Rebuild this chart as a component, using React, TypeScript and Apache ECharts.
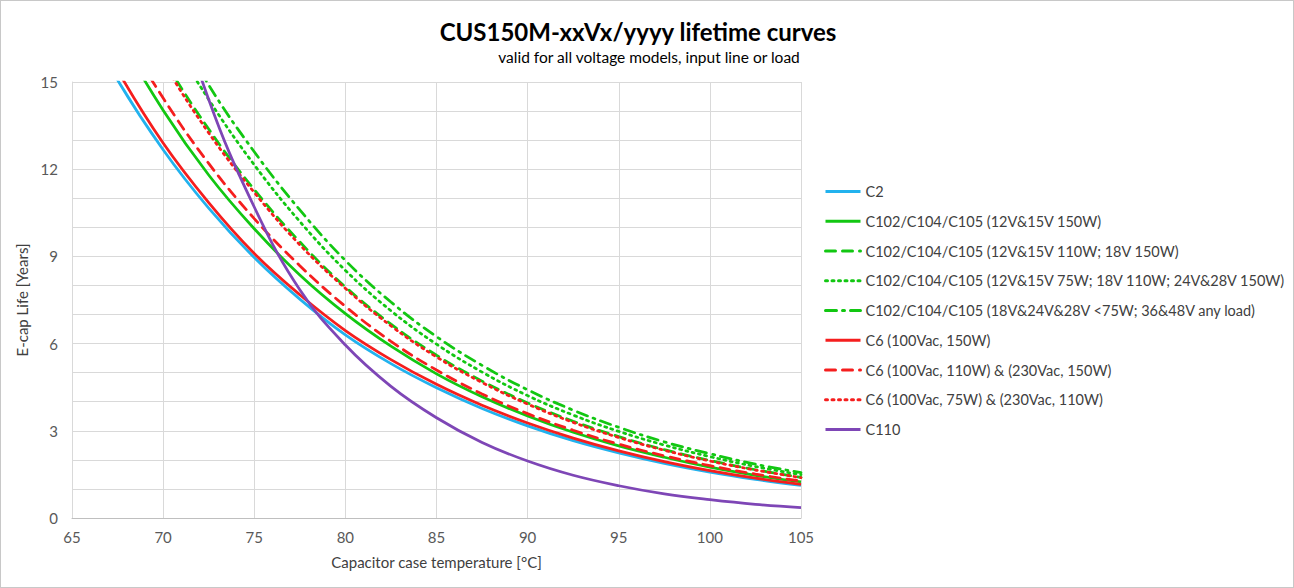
import React, { useEffect, useRef } from "react";
import * as echarts from "echarts";

const temps = [65, 67.5, 70, 72.5, 75, 77.5, 80, 82.5, 85, 87.5, 90, 92.5, 95, 97.5, 100, 102.5, 105];

const c2 = [17.92, 15.07, 12.67, 10.66, 8.96, 7.53, 6.3, 5.31, 4.48, 3.77, 3.17, 2.66, 2.24, 1.88, 1.58, 1.33, 1.12];
const c102_150 = [19.84, 16.68, 14.03, 11.8, 9.95, 8.36, 7.03, 5.91, 4.96, 4.17, 3.51, 2.95, 2.48, 2.09, 1.75, 1.47, 1.24];
const c102_110 = [22.4, 18.84, 15.84, 13.38, 11.3, 9.5, 7.95, 6.67, 5.6, 4.71, 3.96, 3.33, 2.8, 2.35, 1.98, 1.66, 1.4];
const c102_75 = [23.84, 20.1, 17.0, 14.4, 12.15, 10.2, 8.52, 7.13, 5.98, 5.02, 4.21, 3.54, 2.98, 2.51, 2.11, 1.77, 1.49];
const c102_any = [24.96, 20.99, 17.7, 14.9, 12.6, 10.6, 8.86, 7.43, 6.24, 5.25, 4.41, 3.71, 3.12, 2.62, 2.21, 1.85, 1.56];
const c6_150 = [18.3, 15.4, 12.9, 10.85, 9.1, 7.68, 6.45, 5.45, 4.6, 3.88, 3.27, 2.75, 2.31, 1.94, 1.63, 1.37, 1.16];
const c6_110 = [20.32, 17.09, 14.45, 12.2, 10.3, 8.68, 7.28, 6.08, 5.09, 4.27, 3.59, 3.02, 2.54, 2.14, 1.8, 1.51, 1.27];
const c6_75 = [22.16, 18.63, 15.7, 13.25, 11.2, 9.4, 7.9, 6.61, 5.54, 4.66, 3.92, 3.29, 2.77, 2.33, 1.96, 1.65, 1.39];
const c110 = [35.0, 26.0, 19.4, 14.4, 10.7, 7.85, 5.95, 4.53, 3.45, 2.6, 1.96, 1.47, 1.11, 0.83, 0.63, 0.47, 0.36];

const seriesNames = [
  "C2",
  "C102/C104/C105 (12V&15V 150W)",
  "C102/C104/C105 (12V&15V 110W; 18V 150W)",
  "C102/C104/C105 (12V&15V 75W; 18V 110W; 24V&28V 150W)",
  "C102/C104/C105 (18V&24V&28V <75W; 36&48V any load)",
  "C6 (100Vac, 150W)",
  "C6 (100Vac, 110W) & (230Vac, 150W)",
  "C6 (100Vac, 75W) & (230Vac, 110W)",
  "C110",
];
const seriesValues = [c2, c102_150, c102_110, c102_75, c102_any, c6_150, c6_110, c6_75, c110];

const BLUE = "#22B2EE";
const GREEN = "#12C712";
const RED = "#F51E1E";
const PURPLE = "#7E46B6";
const seriesColors = [BLUE, GREEN, GREEN, GREEN, GREEN, RED, RED, RED, PURPLE];
const seriesDash: any[] = [
  "solid",
  "solid",
  [10, 7],
  [2, 4.5],
  [11, 6, 2, 6],
  "solid",
  [10, 7],
  [2, 4.5],
  "solid",
];

const FONT = "Lato, 'Open Sans', sans-serif";

export default function App() {
  const ref = useRef<HTMLDivElement>(null);
  useEffect(() => {
    document.body.style.margin = "0";
    const chart = echarts.init(ref.current!, null, { renderer: "svg" });
    const series = seriesNames.map((name, i) => ({
      name,
      type: "line",
      data: temps.map((t, j) => [t, seriesValues[i][j]]),
      showSymbol: false,
      symbol: "none",
      smooth: 0.4,
      clip: true,
      lineStyle: {
        color: seriesColors[i],
        width: 2.75,
        type: seriesDash[i],
        cap: seriesDash[i] === "solid" ? "butt" : "round",
      },
      itemStyle: { color: seriesColors[i] },
      z: 2,
    }));
    chart.setOption({
      animation: false,
      backgroundColor: "#ffffff",
      textStyle: { fontFamily: FONT },
      title: [
        {
          text: "CUS150M-xxVx/yyyy lifetime curves",
          left: 632,
          top: 13,
          textAlign: "center",
          textStyle: { fontFamily: FONT, fontSize: 24, fontWeight: "bold", color: "#000000" },
        },
        {
          text: "valid for all voltage models, input line or load",
          left: 643,
          top: 43,
          textAlign: "center",
          textStyle: { fontFamily: FONT, fontSize: 15.5, fontWeight: "normal", color: "#000000" },
        },
      ],
      legend: {
        orient: "vertical",
        left: 818,
        top: 178,
        itemWidth: 35,
        itemHeight: 14,
        itemGap: 14.75,
        data: seriesNames,
        itemStyle: { opacity: 0 },
        lineStyle: { width: 3 },
        textStyle: { fontFamily: FONT, fontSize: 14.5, color: "#404040", lineHeight: 14 },
      },
      grid: { left: 71, right: 492, top: 81, bottom: 69, containLabel: false },
      xAxis: {
        type: "value",
        min: 65,
        max: 105,
        interval: 5,
        name: "Capacitor case temperature [°C]",
        nameLocation: "middle",
        nameGap: 36,
        nameTextStyle: { fontFamily: FONT, fontSize: 15, color: "#404040" },
        axisLine: { show: true, lineStyle: { color: "#bfbfbf", width: 1 } },
        axisTick: { show: false },
        axisLabel: { fontFamily: FONT, fontSize: 15, color: "#595959", margin: 11 },
        splitLine: { show: true, lineStyle: { color: "#d9d9d9", width: 1 } },
      },
      yAxis: {
        type: "value",
        min: 0,
        max: 15,
        interval: 1,
        name: "E-cap Life [Years]",
        nameLocation: "middle",
        nameGap: 35,
        nameRotate: 90,
        nameTextStyle: { fontFamily: FONT, fontSize: 15, color: "#404040" },
        axisLine: { show: true, lineStyle: { color: "#d9d9d9", width: 1 } },
        axisTick: { show: false },
        axisLabel: {
          fontFamily: FONT,
          fontSize: 15,
          color: "#595959",
          margin: 14,
          formatter: (v: number) => (v % 3 === 0 ? String(v) : ""),
        },
        splitLine: { show: true, lineStyle: { color: "#d9d9d9", width: 1 } },
      },
      series,
    });
    return () => chart.dispose();
  }, []);
  return (
    <div
      ref={ref}
      style={{
        position: "absolute",
        left: 0,
        top: 0,
        width: 1294,
        height: 588,
        boxSizing: "border-box",
        border: "1px solid #c8c8c8",
      }}
    />
  );
}
